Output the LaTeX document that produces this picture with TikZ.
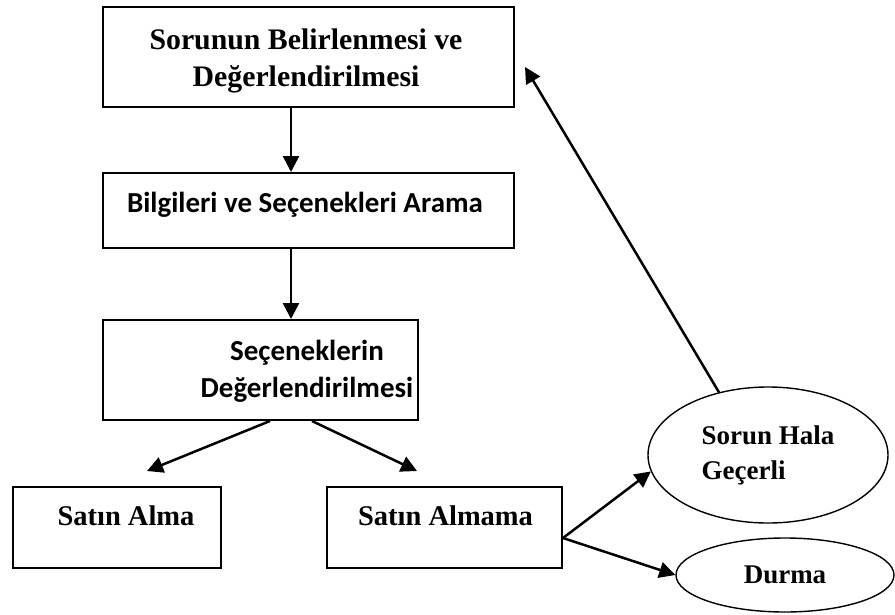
\documentclass[tikz,border=0pt]{standalone}
\usepackage{fontspec}
\setmainfont{Liberation Serif}
\newfontfamily\carlito{Carlito}
\usetikzlibrary{arrows.meta,shapes.geometric}

\newcommand{\tnrb}{\bfseries\fontsize{28.5}{37}\selectfont}
\newcommand{\tnrbb}{\bfseries\fontsize{29.8}{37}\selectfont}
\newcommand{\calb}{\carlito\bfseries\fontsize{29}{37}\selectfont}
\newcommand{\elb}{\bfseries\fontsize{27}{35}\selectfont}

\tikzset{
  kutu/.style={draw, line width=2pt, inner sep=0pt},
  elips/.style={draw, ellipse, line width=1.4pt, inner sep=0pt, align=left, font=\elb},
  yazi/.style={inner sep=0pt, align=center},
  ok/.style={line width=2.5pt, -{Triangle[length=16pt,width=16pt]}},
}

\begin{document}
\begin{tikzpicture}[x=1pt,y=-1pt]
  \useasboundingbox (0,0) rectangle (895,614);

  % Draw boxes
  \node (sorun) [kutu, minimum width=411pt, minimum height=100pt] at (308.5,57) {};
  \node (bilgi) [kutu, minimum width=411pt, minimum height=75pt] at (308.5,210.5) {};
  \node (secenek) [kutu, minimum width=315pt, minimum height=100pt] at (260.5,370) {};
  \node (alma) [kutu, minimum width=208pt, minimum height=81pt] at (117,527.5) {};
  \node (almama) [kutu, minimum width=235pt, minimum height=81pt] at (444.5,527.5) {};

  % Box texts
  \node (sorunT) [yazi, font=\tnrbb] at (306,61) {Sorunun Belirlenmesi ve\\Değerlendirilmesi};
  \node (bilgiT) [yazi, font=\calb, anchor=base] at (305,212) {Bilgileri ve Seçenekleri Arama};
  \node (secenekT) [yazi, font=\calb] at (307,371) {Seçeneklerin\\Değerlendirilmesi};
  \node (almaT) [yazi, font=\tnrb, anchor=base] at (126,525) {Satın Alma};
  \node (almamaT) [yazi, font=\tnrb, anchor=base] at (445.5,525) {Satın Almama};

  % Draw ellipses
  \node (hala) [elips, minimum width=240pt, minimum height=136pt] at (768,455) {Sorun Hala\\Geçerli};
  \node (durma) [elips, minimum width=218pt, minimum height=74pt] at (785,575) {Durma};

  % Draw arrows
  \coordinate (ax) at (291,0);
  \draw [ok] (sorun.south -| ax) -- (bilgi.north -| ax);
  \draw [ok] (bilgi.south -| ax) -- (secenek.north -| ax);
  \draw [ok] ([xshift=9.5pt]secenek.south) -- ([xshift=30pt,yshift=15pt]alma.north);
  \draw [ok] ([xshift=51.5pt]secenek.south) -- ([xshift=-27.5pt,yshift=15pt]almama.north);
  \draw [ok] ([yshift=-10.5pt]almama.east) -- (hala.188);
  \draw [ok] ([yshift=-10.5pt]almama.east) -- (durma.west);
  \draw [ok] (hala.128) -- ([xshift=10pt,yshift=-10pt]sorun.east);
\end{tikzpicture}
\end{document}
